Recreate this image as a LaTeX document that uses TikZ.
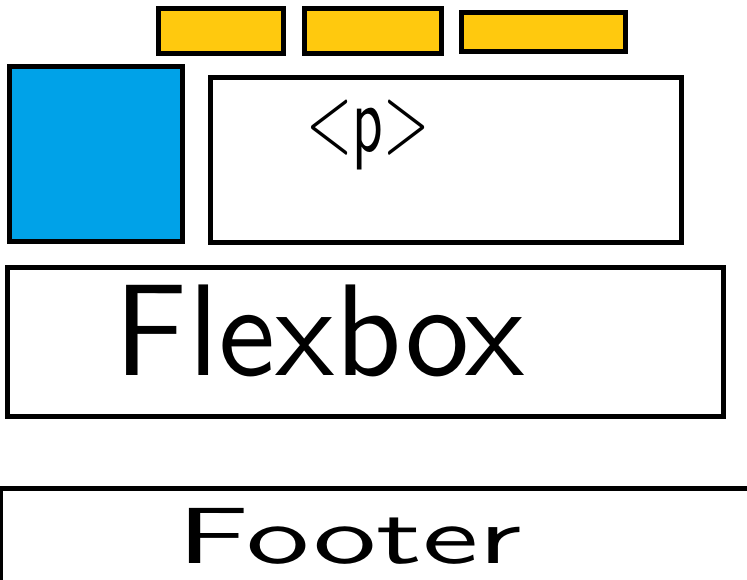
\documentclass[tikz,border=0pt]{standalone}
\usepackage{graphicx}
\definecolor{gold}{HTML}{FFC90E}
\definecolor{paintblue}{HTML}{00A2E8}
\begin{document}
\begin{tikzpicture}[x=1pt,y=-1pt,
  box/.style={draw=black,line width=5pt,rectangle,inner sep=0pt,outer sep=0pt},
  tab/.style={box,fill=gold},
  lbl/.style={inner sep=0pt,outer sep=0pt,font=\sffamily,text=black}]
\fill[white] (0,0) rectangle (747,580);
\useasboundingbox (0,0) rectangle (747,580);
\clip (0,0) rectangle (747,580);
% top tabs
\node[tab,minimum width=125pt,minimum height=45pt] (t1) at (221,31) {};
\node[tab,minimum width=137pt,minimum height=45pt] (t2) at (373,31) {};
\node[tab,minimum width=164pt,minimum height=39pt] (t3) at (543.5,32) {};
% blue square
\node[box,fill=paintblue,minimum width=173pt,minimum height=175pt] (side) at (96,154) {};
% paragraph box
\node[box,fill=white,minimum width=471pt,minimum height=165pt] (pbox) at (446,160) {};
\node[lbl] (ptext) at (368,135) {\resizebox*{123pt}{70pt}{<p>}};
% flexbox
\node[box,fill=white,minimum width=716pt,minimum height=149pt] (flex) at (365.5,342) {};
\node[lbl] (flextext) at (320,331) {\resizebox*{410pt}{92pt}{Flexbox}};
% footer
\node[box,fill=white,minimum width=757pt,minimum height=111pt] (footer) at (379,544) {};
\node[lbl] (footertext) at (350,536) {\resizebox*{344pt}{56pt}{Footer}};
\end{tikzpicture}
\end{document}
